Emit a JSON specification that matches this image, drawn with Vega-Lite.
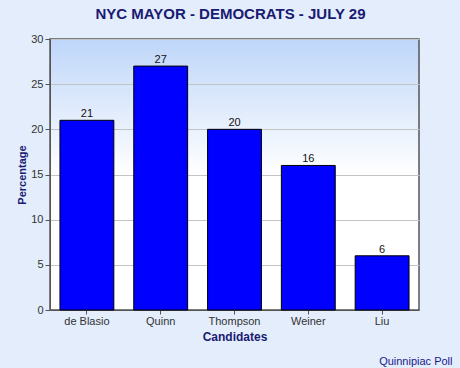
{
  "$schema": "https://vega.github.io/schema/vega-lite/v6.json",
  "width": 369,
  "height": 271,
  "autosize": {"type": "none"},
  "padding": {"left": 50, "top": 39, "right": 41, "bottom": 58},
  "background": "#e3edfc",
  "title": {
    "text": "NYC MAYOR - DEMOCRATS - JULY 29",
    "font": "Liberation Sans",
    "fontSize": 15,
    "fontWeight": "bold",
    "color": "#1a1a72",
    "anchor": "middle",
    "frame": "group",
    "dx": -4,
    "offset": 11
  },
  "data": {
    "values": [
      {"Candidate": "de Blasio", "Percentage": 21},
      {"Candidate": "Quinn", "Percentage": 27},
      {"Candidate": "Thompson", "Percentage": 20},
      {"Candidate": "Weiner", "Percentage": 16},
      {"Candidate": "Liu", "Percentage": 6}
    ]
  },
  "layer": [
    {
      "layer": [
        {
          "mark": {"type": "bar", "fill": "#0000ff", "stroke": "#000000", "strokeWidth": 1},
          "encoding": {
            "x": {
              "field": "Candidate",
              "type": "nominal",
              "sort": null,
              "scale": {"paddingInner": 0.27, "paddingOuter": 0.135},
              "axis": {
                "title": "Candidates",
                "titleFont": "Liberation Sans",
                "titleFontSize": 12,
                "titleFontWeight": "bold",
                "titleColor": "#1a1a72",
                "titlePadding": 5,
                "labelAngle": 0,
                "labelFont": "Liberation Sans",
                "labelFontSize": 11,
                "labelColor": "#333333",
                "labelPadding": 1,
                "tickSize": 4,
                "tickColor": "#555555",
                "domainColor": "#555555",
                "grid": false
              }
            },
            "y": {
              "field": "Percentage",
              "type": "quantitative",
              "scale": {"domain": [0, 30]},
              "axis": {
                "title": "Percentage",
                "titleFont": "Liberation Sans",
                "titleFontSize": 11,
                "titleFontWeight": "bold",
                "titleColor": "#1a1a72",
                "titlePadding": 3,
                "values": [0, 5, 10, 15, 20, 25, 30],
                "labelFont": "Liberation Sans",
                "labelFontSize": 11,
                "labelColor": "#333333",
                "labelPadding": 2,
                "tickSize": 5,
                "tickColor": "#555555",
                "domainColor": "#555555",
                "gridColor": "#c4c4c4",
                "gridWidth": 1
              }
            }
          }
        },
        {
          "mark": {"type": "text", "baseline": "bottom", "dy": -1, "font": "Liberation Sans", "fontSize": 11, "color": "#111111"},
          "encoding": {
            "x": {"field": "Candidate", "type": "nominal", "sort": null},
            "y": {"field": "Percentage", "type": "quantitative"},
            "text": {"field": "Percentage", "type": "quantitative"}
          }
        }
      ]
    },
    {
      "mark": {"type": "point", "opacity": 0},
      "encoding": {
        "x": {
          "field": "Candidate",
          "type": "nominal",
          "sort": null,
          "axis": {
            "orient": "bottom",
            "title": "Quinnipiac Poll",
            "titleFont": "Liberation Sans",
            "titleFontSize": 11,
            "titleFontWeight": "normal",
            "titleColor": "#1a1a8a",
            "titleX": 402,
            "titleY": 54,
            "titleAlign": "right",
            "titleBaseline": "alphabetic",
            "labels": false,
            "ticks": false,
            "domain": false,
            "grid": false
          }
        },
        "y": {"field": "Percentage", "type": "quantitative"}
      }
    }
  ],
  "resolve": {"scale": {"x": "independent"}, "axis": {"x": "independent"}},
  "config": {
    "view": {
      "fill": {
        "gradient": "linear",
        "x1": 0, "y1": 0, "x2": 0, "y2": 1,
        "stops": [
          {"offset": 0, "color": "#bed6f9"},
          {"offset": 0.5, "color": "#ffffff"},
          {"offset": 1, "color": "#ffffff"}
        ]
      },
      "stroke": "#555555",
      "strokeWidth": 1.5
    }
  }
}
